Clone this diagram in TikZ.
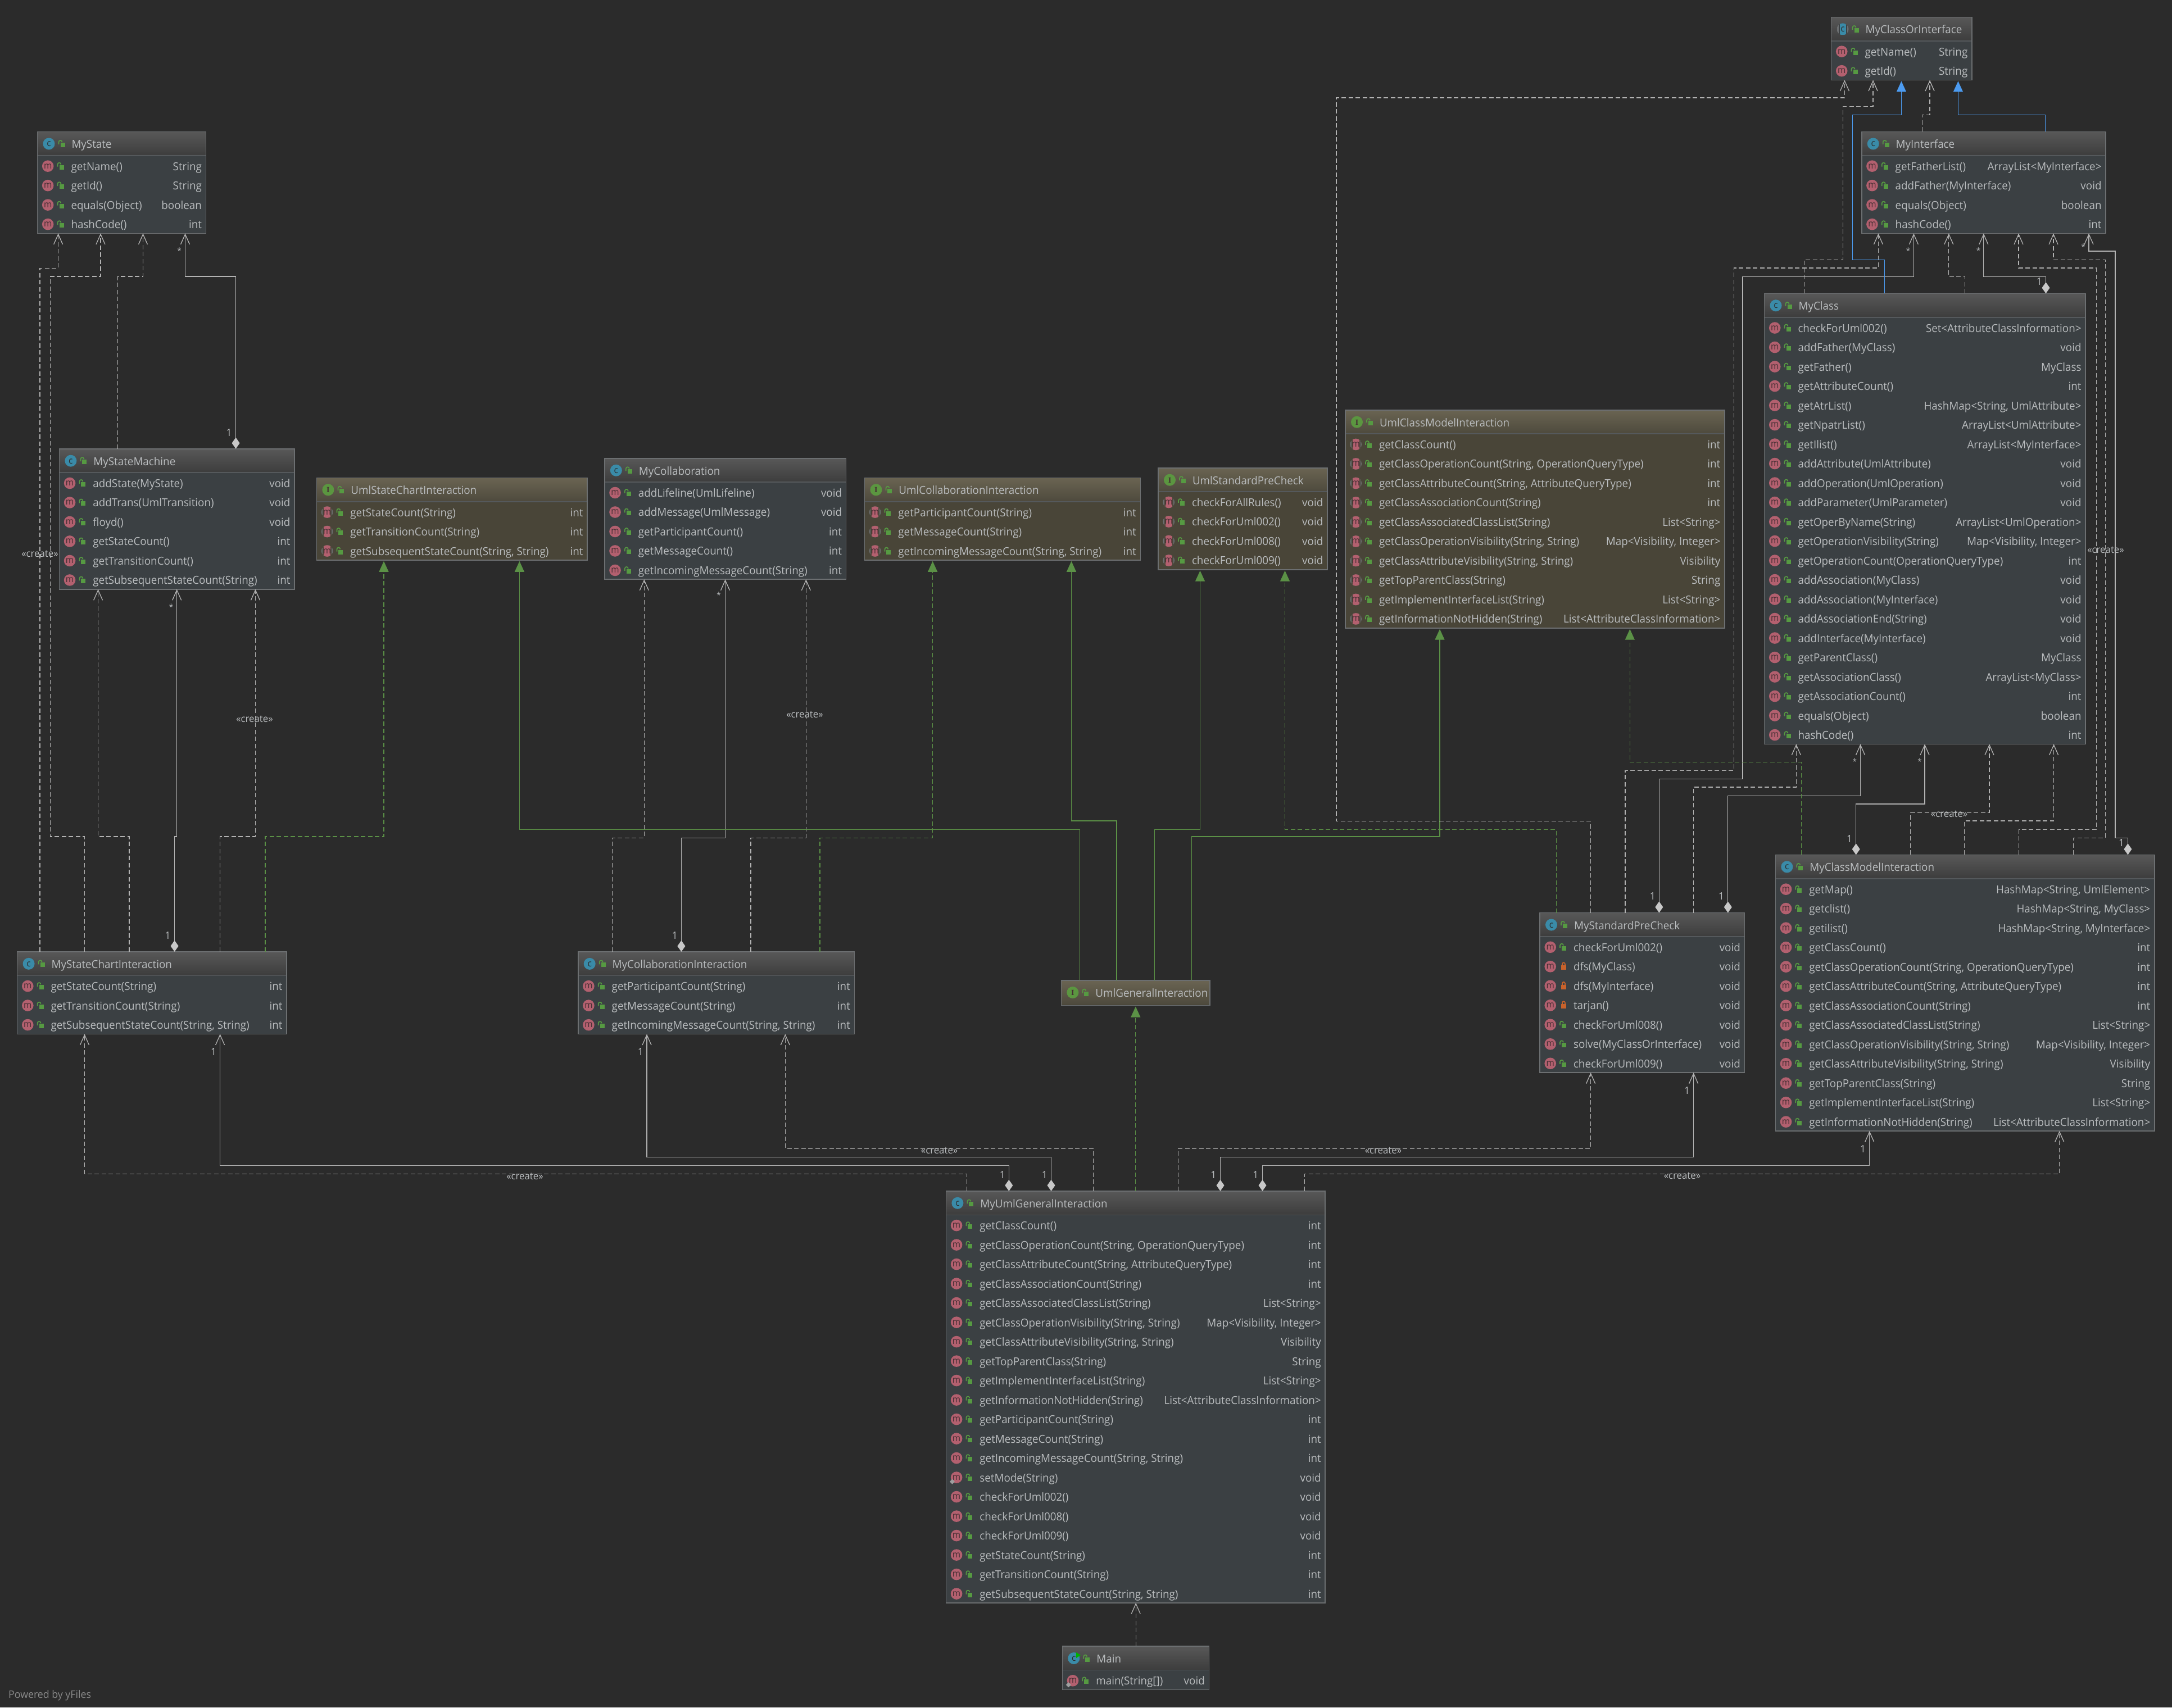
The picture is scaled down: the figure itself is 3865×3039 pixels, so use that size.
\documentclass[tikz,border=0pt]{standalone}
\usepackage{fontspec}
\setmainfont[FakeStretch=0.96]{Open Sans}
\newfontfamily\slabfont{Liberation Serif}
\usetikzlibrary{arrows.meta,calc}
\definecolor{bgc}{HTML}{2B2B2B}
\definecolor{linec}{HTML}{B2B2B2}
\definecolor{diac}{HTML}{C8C8C8}
\definecolor{greenc}{HTML}{5B9146}
\definecolor{bluec}{HTML}{4C9BF0}
\definecolor{txtc}{HTML}{BABDBF}
\definecolor{borderc}{HTML}{6C6F71}
\definecolor{sepc}{HTML}{55595C}
\definecolor{bodyc}{HTML}{3B4043}
\definecolor{bodyi}{HTML}{494538}
\definecolor{headct}{HTML}{585858}
\definecolor{headcb}{HTML}{3D3D3D}
\definecolor{headit}{HTML}{6A6452}
\definecolor{headib}{HTML}{4E4A3D}
\definecolor{micon}{HTML}{B3606F}
\definecolor{mglyph}{HTML}{452E33}
\definecolor{cicon}{HTML}{3A8BA8}
\definecolor{iicon}{HTML}{5B9640}
\definecolor{lockg}{HTML}{569A42}
\definecolor{locko}{HTML}{C9622B}
\tikzset{
  x=1pt,y=-1pt,
  umlbody/.style={rectangle,inner sep=0,outer sep=0,anchor=north west,line width=1.6pt,draw=borderc},
  rowtext/.style={inner sep=0,outer sep=0,text=txtc,font=\fontsize{19.6}{22}\selectfont},
  rowleft/.style={rowtext,anchor=base west},
  rowright/.style={rowtext,anchor=base east},
  iconglyph/.style={inner sep=0,outer sep=0,anchor=base,text=mglyph,font=\fontsize{16}{18}\selectfont},
  lab/.style={inner sep=0,outer sep=0,text=txtc,font=\fontsize{18}{20}\selectfont},
  starlab/.style={inner sep=0,outer sep=0,text=txtc,font=\fontsize{14}{16}\selectfont},
  crlab/.style={inner sep=0,outer sep=0,text=txtc,font=\fontsize{17.5}{20}\selectfont},
  openhead/.style={-{Straight Barb[length=18pt,width=16pt,line width=1.3pt]}},
  diahead/.style={{Diamond[length=20pt,width=14pt,color=diac,fill=diac]}-{Straight Barb[length=18pt,width=16pt,line width=1.3pt]}},
  dep/.style={draw=linec,line width=1.3pt,dash pattern=on 8pt off 4.5pt,openhead},
  assoc/.style={draw=linec,line width=1.3pt,diahead},
  gen/.style={line width=1.3pt,shorten >=2pt,-{Triangle[length=19pt,width=17pt]}},
  greensolid/.style={gen,draw=greenc,color=greenc},
  greendash/.style={gen,draw=greenc,color=greenc,dash pattern=on 8pt off 4.5pt},
  bluesolid/.style={gen,draw=bluec,color=bluec},
}
\newcommand\vislock[3]{%
  \fill[#3] (#1+3,#2-2) rectangle (#1+11,#2+6);
  \draw[#3,line width=1.7pt] (#1,#2+1) -- (#1,#2-3) .. controls (#1,#2-7) and (#1+6,#2-7) .. (#1+6,#2-3);
}
\newcommand\privlock[3]{%
  \fill[#3] (#1+2,#2-2) rectangle (#1+11,#2+6);
  \draw[#3,line width=1.7pt] (#1+4,#2-2) -- (#1+4,#2-4) .. controls (#1+4,#2-8) and (#1+9,#2-8) .. (#1+9,#2-4) -- (#1+9,#2-2);
}
\def\pvA{dfs(MyClass)}\def\pvB{dfs(MyInterface)}\def\pvC{tarjan()}
\def\stA{setMode(String)}\def\stB{main(String[])}
\def\kindI{i}\def\kindA{a}
% name, kind, left, top, right, number of rows, title, rows
\newcommand\umlbox[8]{%
  \def\boxkind{#2}%
  \pgfmathsetmacro\boxh{#6==0 ? 44.5 : 43+34.5*#6}%
  \pgfmathsetmacro\boxw{#5-#3}%
  \ifx\boxkind\kindI
    \node[umlbody,fill=bodyi,minimum width=\boxw pt,minimum height=\boxh pt] (#1) at (#3,#4) {};
    \shade[top color=headit,bottom color=headib] (#3,#4) rectangle (#5,#4+42);
  \else
    \node[umlbody,fill=bodyc,minimum width=\boxw pt,minimum height=\boxh pt] (#1) at (#3,#4) {};
    \shade[top color=headct,bottom color=headcb] (#3,#4) rectangle (#5,#4+42);
  \fi
  \ifnum#6>0 \draw[sepc,line width=1.5pt] (#3,#4+42.5) -- (#5,#4+42.5);\fi
  \draw[borderc,line width=1.6pt] (#1.north west) rectangle (#1.south east);
  % header icon
  \ifx\boxkind\kindI
    \fill[iicon] (#3+20.5,#4+21.5) circle (10.5);
    \node[iconglyph,font=\slabfont\bfseries\fontsize{14}{16}\selectfont] (#1-kind) at (#3+20.5,#4+26.5) {I};
  \else\ifx\boxkind\kindA
    \begin{scope}
      \clip (#3+20.5,#4+21.5) circle (10.5);
      \fill[borderc] (#3+10,#4+11) rectangle (#3+31,#4+32);
      \fill[bodyc] (#3+13,#4+11) rectangle (#3+28,#4+32);
      \fill[cicon] (#3+15,#4+11) rectangle (#3+26,#4+32);
    \end{scope}
    \node[iconglyph,font=\fontsize{16}{18}\selectfont,text=bgc] (#1-kind) at (#3+20.5,#4+26.5) {c};
  \else
    \fill[cicon] (#3+20.5,#4+21.5) circle (10.5);
    \node[iconglyph,font=\fontsize{16}{18}\selectfont,text=bgc] (#1-kind) at (#3+20.5,#4+26.5) {c};
  \fi\fi
  \vislock{#3+38}{#4+21.5}{lockg}
  \node[rowleft] (#1-title) at (#3+61,#4+29.5) {#7};
  \foreach \rl/\rr [count=\rk] in {#8}{%
    \pgfmathsetmacro\yc{#4+44+34.5*(\rk-0.5)}%
    \ifx\boxkind\kindI
      \begin{scope}
        \clip (#3+18.7,\yc) circle (10.3);
        \fill[borderc] (#3+8,\yc-11) rectangle (#3+30,\yc+11);
        \fill[bodyi] (#3+10.5,\yc-11) rectangle (#3+27,\yc+11);
        \fill[micon] (#3+12.7,\yc-11) rectangle (#3+24.7,\yc+11);
      \end{scope}
    \else
      \fill[micon] (#3+18.7,\yc) circle (10.3);
    \fi
    \node[iconglyph] (#1-m\rk) at (#3+18.7,\yc+4.5) {m};
    \ifx\rl\stA \fill[diac!70!bodyc] (#3+11,\yc+3) -- (#3+15.5,\yc+7.5) -- (#3+11,\yc+12) -- (#3+6.5,\yc+7.5) -- cycle;\fi
    \ifx\rl\stB \fill[diac!70!bodyc] (#3+11,\yc+3) -- (#3+15.5,\yc+7.5) -- (#3+11,\yc+12) -- (#3+6.5,\yc+7.5) -- cycle;\fi
    \def\lockdone{0}%
    \ifx\rl\pvA \def\lockdone{1}\fi
    \ifx\rl\pvB \def\lockdone{1}\fi
    \ifx\rl\pvC \def\lockdone{1}\fi
    \ifnum\lockdone=1
      \privlock{#3+36}{\yc}{locko}
    \else
      \vislock{#3+36}{\yc}{lockg}
    \fi
    \node[rowleft] (#1-t\rk) at (#3+60,\yc+7.5) {\rl};
    \node[rowright] (#1-r\rk) at (#5-7.5,\yc+7.5) {\rr};
  }%
}
\begin{document}
\begin{tikzpicture}
\useasboundingbox (0,0) rectangle (3865,3039);
\fill[bgc] (0,0) rectangle (3865,3039);

\umlbox{MyState}{c}{66.5}{234.4}{366.5}{4}{MyState}{getName()/String,getId()/String,equals(Object)/boolean,hashCode()/int}
\umlbox{MyStateMachine}{c}{105.4}{798.7}{524}{6}{MyStateMachine}{addState(MyState)/void,addTrans(UmlTransition)/void,floyd()/void,getStateCount()/int,getTransitionCount()/int,getSubsequentStateCount(String)/int}
\umlbox{UmlStateChart}{i}{563.4}{850.3}{1045}{3}{UmlStateChartInteraction}{getStateCount(String)/int,getTransitionCount(String)/int,{getSubsequentStateCount(String, String)}/int}
\umlbox{MyCollaboration}{c}{1075.8}{815.7}{1505.6}{5}{MyCollaboration}{addLifeline(UmlLifeline)/void,addMessage(UmlMessage)/void,getParticipantCount()/int,getMessageCount()/int,getIncomingMessageCount(String)/int}
\umlbox{UmlCollab}{i}{1538.4}{850.3}{2029.3}{3}{UmlCollaborationInteraction}{getParticipantCount(String)/int,getMessageCount(String)/int,{getIncomingMessageCount(String, String)}/int}
\umlbox{UmlPreCheck}{i}{2061}{832.7}{2361.8}{4}{UmlStandardPreCheck}{checkForAllRules()/void,checkForUml002()/void,checkForUml008()/void,checkForUml009()/void}
\umlbox{UmlClassModel}{i}{2394}{729.7}{3068.8}{10}{UmlClassModelInteraction}{getClassCount()/int,{getClassOperationCount(String, OperationQueryType)}/int,{getClassAttributeCount(String, AttributeQueryType)}/int,getClassAssociationCount(String)/int,getClassAssociatedClassList(String)/List<String>,{getClassOperationVisibility(String, String)}/{Map<Visibility, Integer>},{getClassAttributeVisibility(String, String)}/Visibility,getTopParentClass(String)/String,getImplementInterfaceList(String)/List<String>,getInformationNotHidden(String)/List<AttributeClassInformation>}
\umlbox{MyClassOrInterface}{a}{3258.5}{30.4}{3508.8}{2}{MyClassOrInterface}{getName()/String,getId()/String}
\umlbox{MyInterface}{c}{3312.7}{234.4}{3747}{4}{MyInterface}{getFatherList()/ArrayList<MyInterface>,addFather(MyInterface)/void,equals(Object)/boolean,hashCode()/int}
\umlbox{MyClass}{c}{3139.5}{522.3}{3711}{22}{MyClass}{checkForUml002()/Set<AttributeClassInformation>,addFather(MyClass)/void,getFather()/MyClass,getAttributeCount()/int,getAtrList()/{HashMap<String, UmlAttribute>},getNpatrList()/ArrayList<UmlAttribute>,getIlist()/ArrayList<MyInterface>,addAttribute(UmlAttribute)/void,addOperation(UmlOperation)/void,addParameter(UmlParameter)/void,getOperByName(String)/ArrayList<UmlOperation>,getOperationVisibility(String)/{Map<Visibility, Integer>},getOperationCount(OperationQueryType)/int,addAssociation(MyClass)/void,addAssociation(MyInterface)/void,addAssociationEnd(String)/void,addInterface(MyInterface)/void,getParentClass()/MyClass,getAssociationClass()/ArrayList<MyClass>,getAssociationCount()/int,equals(Object)/boolean,hashCode()/int}
\umlbox{MyClassModel}{c}{3159.3}{1521.4}{3833.7}{13}{MyClassModelInteraction}{getMap()/{HashMap<String, UmlElement>},getclist()/{HashMap<String, MyClass>},getilist()/{HashMap<String, MyInterface>},getClassCount()/int,{getClassOperationCount(String, OperationQueryType)}/int,{getClassAttributeCount(String, AttributeQueryType)}/int,getClassAssociationCount(String)/int,getClassAssociatedClassList(String)/List<String>,{getClassOperationVisibility(String, String)}/{Map<Visibility, Integer>},{getClassAttributeVisibility(String, String)}/Visibility,getTopParentClass(String)/String,getImplementInterfaceList(String)/List<String>,getInformationNotHidden(String)/List<AttributeClassInformation>}
\umlbox{MyPreCheck}{c}{2740}{1624.5}{3104.3}{7}{MyStandardPreCheck}{checkForUml002()/void,dfs(MyClass)/void,dfs(MyInterface)/void,tarjan()/void,checkForUml008()/void,solve(MyClassOrInterface)/void,checkForUml009()/void}
\umlbox{MyChart}{c}{30.6}{1693.8}{510}{3}{MyStateChartInteraction}{getStateCount(String)/int,getTransitionCount(String)/int,{getSubsequentStateCount(String, String)}/int}
\umlbox{MyCollabI}{c}{1028.7}{1693.9}{1520.4}{3}{MyCollaborationInteraction}{getParticipantCount(String)/int,getMessageCount(String)/int,{getIncomingMessageCount(String, String)}/int}
\umlbox{UmlGeneral}{i}{1888.4}{1745}{2153.2}{0}{UmlGeneralInteraction}{}
\umlbox{MyUml}{c}{1683.4}{2119.8}{2358.2}{20}{MyUmlGeneralInteraction}{getClassCount()/int,{getClassOperationCount(String, OperationQueryType)}/int,{getClassAttributeCount(String, AttributeQueryType)}/int,getClassAssociationCount(String)/int,getClassAssociatedClassList(String)/List<String>,{getClassOperationVisibility(String, String)}/{Map<Visibility, Integer>},{getClassAttributeVisibility(String, String)}/Visibility,getTopParentClass(String)/String,getImplementInterfaceList(String)/List<String>,getInformationNotHidden(String)/List<AttributeClassInformation>,getParticipantCount(String)/int,getMessageCount(String)/int,{getIncomingMessageCount(String, String)}/int,setMode(String)/void,checkForUml002()/void,checkForUml008()/void,checkForUml009()/void,getStateCount(String)/int,getTransitionCount(String)/int,{getSubsequentStateCount(String, String)}/int}
\umlbox{Main}{c}{1890.3}{2930}{2151.3}{1}{Main}{main(String[])/void}
\fill[green!70!black] (1915,2941) -- (1923,2946) -- (1915,2951) -- cycle;

% --- left group
\draw[dep] (71,0 |- MyChart.north) -- (71,477.3) -- (103.6,477.3) -- (103.6,0 |- MyState.south);
\draw[dep] (150.5,0 |- MyChart.north) -- (150.5,1489) -- (89.3,1489) -- (89.3,492) -- (179,492) -- (179,0 |- MyState.south);
\draw[dep] (209.4,0 |- MyStateMachine.north) -- (209.4,492) -- (254.5,492) -- (254.5,0 |- MyState.south);
\draw[assoc] (419.6,0 |- MyStateMachine.north) -- (419.6,492) -- (329.5,492) -- (329.5,0 |- MyState.south);
\draw[dep] (230,0 |- MyChart.north) -- (230,1489) -- (174.6,1489) -- (174.6,0 |- MyStateMachine.south);
\draw[assoc] (310.6,0 |- MyChart.north) -- (310.6,1489) -- (314.7,1489) -- (314.7,0 |- MyStateMachine.south);
\draw[dep] (391.6,0 |- MyChart.north) -- (391.6,1489) -- (454.5,1489) -- (454.5,0 |- MyStateMachine.south);
\draw[greendash] (472,0 |- MyChart.north) -- (472,1489) -- (683,1489) -- (683,0 |- UmlStateChart.south);
% --- collaboration group
\draw[dep] (1089.3,0 |- MyCollabI.north) -- (1089.3,1491.3) -- (1146.3,1491.3) -- (1146.3,0 |- MyCollaboration.south);
\draw[assoc] (1212.4,0 |- MyCollabI.north) -- (1212.4,1491.3) -- (1290.5,1491.3) -- (1290.5,0 |- MyCollaboration.south);
\draw[dep] (1336,0 |- MyCollabI.north) -- (1336,1491.3) -- (1434.3,1491.3) -- (1434.3,0 |- MyCollaboration.south);
\draw[greendash] (1459,0 |- MyCollabI.north) -- (1459,1491.3) -- (1659.6,1491.3) -- (1659.6,0 |- UmlCollab.south);
% --- MyUml to lower-left classes
\draw[assoc] (1795.3,0 |- MyUml.north) -- (1795.3,2074.5) -- (391.6,2074.5) -- (391.6,0 |- MyChart.south);
\draw[dep] (1720.5,0 |- MyUml.north) -- (1720.5,2089.3) -- (150.5,2089.3) -- (150.5,0 |- MyChart.south);
\draw[assoc] (1870.5,0 |- MyUml.north) -- (1870.5,2059.5) -- (1151,2059.5) -- (1151,0 |- MyCollabI.south);
\draw[dep] (1945.6,0 |- MyUml.north) -- (1945.6,2044.4) -- (1397.3,2044.4) -- (1397.3,0 |- MyCollabI.south);
% --- MyUml to general and to lower-right classes
\draw[greendash] (2020.8,0 |- MyUml.north) -- (2020.8,0 |- UmlGeneral.south);
\draw[dep] (2096.6,0 |- MyUml.north) -- (2096.6,2044.4) -- (2830.6,2044.4) -- (2830.6,0 |- MyPreCheck.south);
\draw[assoc] (2171.5,0 |- MyUml.north) -- (2171.5,2059.4) -- (3013.6,2059.4) -- (3013.6,0 |- MyPreCheck.south);
\draw[assoc] (2246.5,0 |- MyUml.north) -- (2246.5,2074.4) -- (3326.7,2074.4) -- (3326.7,0 |- MyClassModel.south);
\draw[dep] (2321.5,0 |- MyUml.north) -- (2321.5,2089.5) -- (3664.7,2089.5) -- (3664.7,0 |- MyClassModel.south);
\draw[dep] (2021.2,0 |- Main.north) -- (2021.2,0 |- MyUml.south);
% --- general to interfaces
\draw[greensolid] (1921.3,0 |- UmlGeneral.north) -- (1921.3,1476.5) -- (924.4,1476.5) -- (924.4,0 |- UmlStateChart.south);
\draw[greensolid] (1987,0 |- UmlGeneral.north) -- (1987,1461) -- (1906.5,1461) -- (1906.5,0 |- UmlCollab.south);
\draw[greensolid] (2054.5,0 |- UmlGeneral.north) -- (2054.5,1476.5) -- (2135.5,1476.5) -- (2135.5,0 |- UmlPreCheck.south);
\draw[greensolid] (2120.3,0 |- UmlGeneral.north) -- (2120.3,1489) -- (2562,1489) -- (2562,0 |- UmlClassModel.south);
% --- MyStandardPreCheck
\draw[greendash] (2769.4,0 |- MyPreCheck.north) -- (2769.4,1476.5) -- (2286.5,1476.5) -- (2286.5,0 |- UmlPreCheck.south);
\draw[dep] (2830.6,0 |- MyPreCheck.north) -- (2830.6,1461.2) -- (2378,1461.2) -- (2378,174) -- (3282.4,174) -- (3282.4,0 |- MyClassOrInterface.south);
\draw[dep] (2891.9,0 |- MyPreCheck.north) -- (2891.9,1371.4) -- (3085.5,1371.4) -- (3085.5,477) -- (3342.4,477) -- (3342.4,0 |- MyInterface.south);
\draw[assoc] (2952.3,0 |- MyPreCheck.north) -- (2952.3,1386.2) -- (3101,1386.2) -- (3101,492.4) -- (3405.4,492.4) -- (3405.4,0 |- MyInterface.south);
\draw[dep] (3013.6,0 |- MyPreCheck.north) -- (3013.6,1401) -- (3196.3,1401) -- (3196.3,0 |- MyClass.south);
\draw[assoc] (3074.8,0 |- MyPreCheck.north) -- (3074.8,1416.3) -- (3310.5,1416.3) -- (3310.5,0 |- MyClass.south);
% --- MyClassModelInteraction
\draw[greendash] (3205.5,0 |- MyClassModel.north) -- (3205.5,1356.6) -- (2900.3,1356.6) -- (2900.3,0 |- UmlClassModel.south);
\draw[assoc] (3302.7,0 |- MyClassModel.north) -- (3302.7,1431) -- (3425,1431) -- (3425,0 |- MyClass.south);
\draw[dep] (3399.6,0 |- MyClassModel.north) -- (3399.6,1446.4) -- (3540,1446.4) -- (3540,0 |- MyClass.south);
\draw[dep] (3495.7,0 |- MyClassModel.north) -- (3495.7,1461) -- (3654.6,1461) -- (3654.6,0 |- MyClass.south);
\draw[dep] (3592.6,0 |- MyClassModel.north) -- (3592.6,1476.5) -- (3730.3,1476.5) -- (3730.3,477) -- (3592,477) -- (3592,0 |- MyInterface.south);
\draw[dep] (3689.5,0 |- MyClassModel.north) -- (3689.5,1491.3) -- (3746.5,1491.3) -- (3746.5,462.5) -- (3654,462.5) -- (3654,0 |- MyInterface.south);
\draw[assoc] (3786.4,0 |- MyClassModel.north) -- (3786.4,1491.3) -- (3764,1491.3) -- (3764,447) -- (3717,447) -- (3717,0 |- MyInterface.south);
% --- MyClass and MyInterface
\draw[dep] (3210.7,0 |- MyClass.north) -- (3210.7,462.5) -- (3279.5,462.5) -- (3279.5,189.7) -- (3333,189.7) -- (3333,0 |- MyClassOrInterface.south);
\draw[bluesolid] (3353.7,0 |- MyClass.north) -- (3353.7,462.5) -- (3296.6,462.5) -- (3296.6,204.5) -- (3383.4,204.5) -- (3383.4,0 |- MyClassOrInterface.south);
\draw[dep] (3496.6,0 |- MyClass.north) -- (3496.6,492.4) -- (3467.8,492.4) -- (3467.8,0 |- MyInterface.south);
\draw[assoc] (3640.5,0 |- MyClass.north) -- (3640.5,492.4) -- (3529.8,492.4) -- (3529.8,0 |- MyInterface.south);
\draw[dep] (3420.5,0 |- MyInterface.north) -- (3420.5,204.5) -- (3434,204.5) -- (3434,0 |- MyClassOrInterface.south);
\draw[bluesolid] (3639.5,0 |- MyInterface.north) -- (3639.5,204.5) -- (3484.4,204.5) -- (3484.4,0 |- MyClassOrInterface.south);

% --- multiplicities
\node[starlab] (s1) at (319,446) {*};
\node[lab] (o1) at (407.6,770) {1};
\node[starlab] (s2) at (304.5,1080) {*};
\node[lab] (o2) at (298.5,1665) {1};
\node[lab] (o3) at (380,1871.7) {1};
\node[lab] (o4) at (1783.7,2091) {1};
\node[starlab] (s3) at (1279,1059) {*};
\node[lab] (o5) at (1200.9,1665) {1};
\node[lab] (o6) at (1139.7,1872) {1};
\node[lab] (o7) at (1858.8,2091) {1};
\node[lab] (o8) at (2159.3,2091) {1};
\node[lab] (o9) at (2234.3,2091) {1};
\node[lab] (o10) at (3002,1940.8) {1};
\node[lab] (o11) at (3315,2045) {1};
\node[lab] (o12) at (2940.7,1595) {1};
\node[lab] (o13) at (3063,1595) {1};
\node[lab] (o14) at (3291,1493) {1};
\node[lab] (o15) at (3775,1500) {1};
\node[lab] (o16) at (3628.8,501) {1};
\node[starlab] (s4) at (3395.6,446) {*};
\node[starlab] (s5) at (3520.5,446) {*};
\node[starlab] (s6) at (3707,439) {*};
\node[starlab] (s7) at (3300.4,1355) {*};
\node[starlab] (s8) at (3416,1355) {*};
% --- stereotypes
\node[crlab] (c1) at (71,986) {«create»};
\node[crlab] (c2) at (453,1280) {«create»};
\node[crlab] (c3) at (1432,1272) {«create»};
\node[crlab] (c4) at (934,2094) {«create»};
\node[crlab] (c5) at (1671.6,2048) {«create»};
\node[crlab] (c6) at (2461.5,2048) {«create»};
\node[crlab] (c7) at (2993.4,2092.5) {«create»};
\node[crlab] (c8) at (3468.6,1449) {«create»};
\node[crlab] (c9) at (3747,979) {«create»};
\node[inner sep=0,anchor=base west,text=white!45!bgc,font=\fontsize{18.5}{20}\selectfont] (credit) at (15,3022) {Powered by yFiles};
\end{tikzpicture}
\end{document}
